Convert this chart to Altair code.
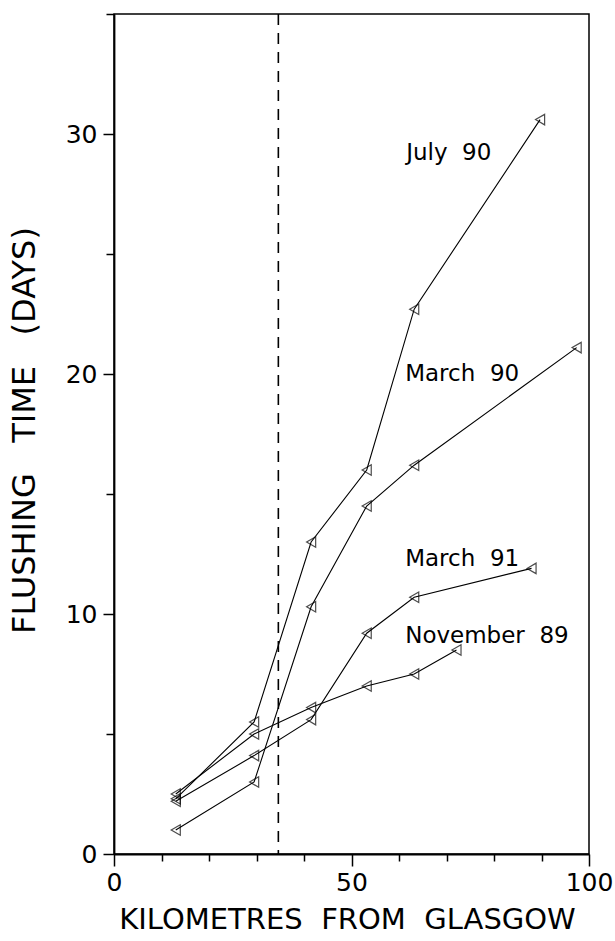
import altair as alt
import pandas as pd

# ---- data ----
july90_km = [13, 29.5, 41.5, 53.2, 63.2, 89.7]
july90_days = [2.3, 5.5, 13.0, 16.0, 22.7, 30.6]
march90_km = [13, 29.5, 41.5, 53.2, 63.2, 97.4]
march90_days = [1.0, 3.0, 10.3, 14.5, 16.2, 21.1]
march91_km = [13, 29.5, 41.5, 53.2, 63.2, 87.9]
march91_days = [2.2, 4.1, 5.6, 9.2, 10.7, 11.9]
nov89_km = [13, 29.5, 41.5, 53.2, 63.2, 72.1]
nov89_days = [2.5, 5.0, 6.1, 7.0, 7.5, 8.5]

NB = "\u00a0"
series_names = ["July 90", "March 90", "March 91", "November 89"]
label_texts = ["July" + NB * 2 + "90", "March" + NB * 2 + "90",
               "March" + NB * 2 + "91", "November" + NB * 2 + "89"]
label_km = [61.5, 61.3, 61.3, 61.3]
label_days = [28.9, 19.7, 12.0, 8.8]

x_title = (NB * 2).join(["KILOMETRES", "FROM", "GLASGOW"])
y_title = (NB * 3).join(["FLUSHING", "TIME", "(DAYS)"])

dashed_km = [34.6]
x_ticks = list(range(0, 101, 10))
y_ticks = list(range(0, 36, 5))

rows = []
for name, kms, days in zip(
    series_names,
    [july90_km, march90_km, march91_km, nov89_km],
    [july90_days, march90_days, march91_days, nov89_days],
):
    for k, d in zip(kms, days):
        rows.append({"series": name, "km": k, "days": d})
df = pd.DataFrame(rows)
labels_df = pd.DataFrame({"text": label_texts, "km": label_km, "days": label_days})
dash_df = pd.DataFrame({"km": dashed_km})

FONT = "DejaVu Sans"

x_enc = alt.X(
    "km:Q",
    scale=alt.Scale(domain=[0, 100], nice=False, zero=False),
    axis=alt.Axis(
        title=x_title,
        values=x_ticks,
        labelExpr="datum.value % 50 == 0 ? datum.label : ''",
        tickSize={"condition": {"test": "datum.value % 50 === 0", "value": 12}, "value": 7},
        labelPadding=4,
        labelFontSize=25,
        labelFont=FONT,
        labelColor="black",
        labelFlush=False,
        titleFont=FONT,
        titleFontSize=29,
        titleFontWeight="normal",
        titleColor="black",
        titleX=233,
        titleY=74,
        titleBaseline="alphabetic",
        titleAlign="center",
        grid=False,
    ),
)
y_enc = alt.Y(
    "days:Q",
    scale=alt.Scale(domain=[0, 35], nice=False, zero=True),
    axis=alt.Axis(
        title=y_title,
        values=y_ticks,
        labelExpr="datum.value % 10 == 0 ? datum.label : ''",
        tickSize={"condition": {"test": "datum.value % 10 === 0", "value": 11}, "value": 8},
        labelPadding=6,
        labelFontSize=25,
        labelFont=FONT,
        labelColor="black",
        labelFlush=False,
        titleFont=FONT,
        titleFontSize=32,
        titleFontWeight="normal",
        titleColor="black",
        titleAngle=-90,
        titleX=-90,
        titleY=416,
        titleAlign="center",
        titleBaseline="middle",
        grid=False,
    ),
)

base = alt.Chart(df)
lines = base.mark_line(color="black", strokeWidth=1.1).encode(
    x=x_enc, y=y_enc, detail="series:N", order="km:Q"
)
points = base.mark_point(
    shape="triangle-left", filled=False, size=110, color="black", strokeWidth=1.2
).encode(x="km:Q", y="days:Q")

dash = alt.Chart(dash_df).mark_rule(
    color="black", strokeWidth=1.6, strokeDash=[11, 8]
).encode(x="km:Q")

texts = alt.Chart(labels_df).mark_text(
    align="left", baseline="alphabetic", font=FONT, fontSize=23, color="black"
).encode(x="km:Q", y="days:Q", text="text:N")

chart = (
    alt.layer(dash, lines, points, texts)
    .properties(
        width=475,
        height=840,
        autosize=alt.AutoSizeParams(type="none"),
        padding={"left": 114, "top": 14, "right": 26, "bottom": 87},
        background="white",
    )
    .configure_view(stroke="black", strokeWidth=1.5)
    .configure_axis(domainColor="black", domainWidth=1.8, tickColor="black", tickWidth=1.5)
)

chart.save("out.html", embed_options={"renderer": "svg", "actions": False})
